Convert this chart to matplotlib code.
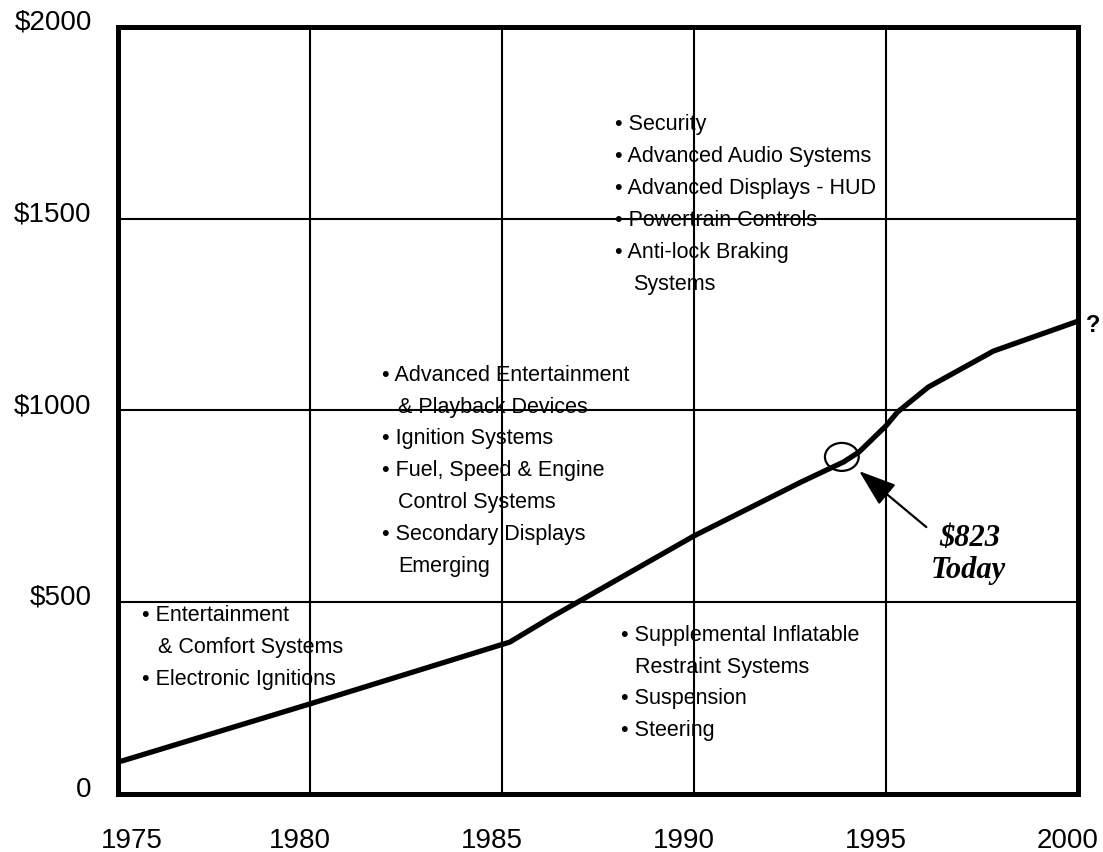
import matplotlib
matplotlib.use("Agg")
import matplotlib.pyplot as plt
import matplotlib.transforms as mtransforms
from matplotlib.patches import Ellipse, ArrowStyle

plt.rcParams['font.family'] = ['Liberation Sans', 'DejaVu Sans']

# Electronics content per vehicle (US$) by model year
years = [1975.1, 1980.0, 1985.2, 1986.3, 1990.0, 1992.8, 1993.9, 1994.3,
         1995.0, 1995.3, 1996.1, 1997.8, 2000.0]
values = [86, 235, 396, 462, 673, 814, 866, 892, 960, 996, 1061, 1155, 1233]

x_ticks = [1975, 1980, 1985, 1990, 1995, 2000]
y_ticks = [0, 500, 1000, 1500, 2000]
y_tick_labels = ['0', '\\$500', '\\$1000', '\\$1500', '\\$2000']

today_year = 1993.85
today_value = 823

# Feature groups listed on the chart
# lines starting with "•" are new items, others continue the item above
block_early = ["• Entertainment", "& Comfort Systems", "• Electronic Ignitions"]
block_mid = ["• Advanced Entertainment", "& Playback Devices", "• Ignition Systems",
             "• Fuel, Speed & Engine", "Control Systems", "• Secondary Displays",
             "Emerging"]
block_late_top = ["• Security", "• Advanced Audio Systems", "• Advanced Displays - HUD",
                  "• Powertrain Controls", "• Anti-lock Braking", "Systems"]
block_late_low = ["• Supplemental Inflatable", "Restraint Systems", "• Suspension",
                  "• Steering"]

fig = plt.figure(figsize=(11.03, 8.53), dpi=100)
ax = fig.add_axes([0.10698, 0.0680, 0.87035, 0.89918])

ax.set_xlim(1975, 2000)
ax.set_ylim(0, 2000)

ax.plot(years, values, color='black', lw=3.8, solid_capstyle='round',
        solid_joinstyle='round', zorder=4)

# grid over the text
ax.set_axisbelow(False)
ax.grid(True, color='black', lw=1.5)
for s in ax.spines.values():
    s.set_linewidth(3.6)
    s.set_zorder(5)

ax.set_xticks(x_ticks)
ax.set_xticklabels([str(y) for y in x_ticks])
ax.set_yticks(y_ticks)
ax.set_yticklabels(y_tick_labels)
ax.tick_params(axis='x', length=0, pad=24, labelsize=20)
ax.tick_params(axis='y', length=0, pad=19, labelsize=20)

# nudge tick labels
for i, lab in enumerate(ax.get_xticklabels()):
    dx = 10 if i == 0 else -7.2
    lab.set_transform(lab.get_transform() +
                      mtransforms.ScaledTranslation(dx / 72, 0, fig.dpi_scale_trans))
for lab in ax.get_yticklabels():
    lab.set_transform(lab.get_transform() +
                      mtransforms.ScaledTranslation(0, 6 / 72, fig.dpi_scale_trans))


def draw_block(x, y, lines, indent=11):
    for i, line in enumerate(lines):
        dx = 0 if line.startswith("•") else indent
        ax.annotate(line, xy=(x, y), xytext=(dx, -i * 23), textcoords='offset points',
                    fontsize=15.5, ha='left', va='center', zorder=1)


draw_block(1975.62, 469, block_early, indent=11.5)
draw_block(1981.87, 1095, block_mid, indent=11.5)
draw_block(1987.94, 1748, block_late_top, indent=13)
draw_block(1988.10, 417, block_late_low, indent=10)

# "today" marker
ax.add_patch(Ellipse((today_year, 879), 0.88, 73, fill=False, ec='black', lw=1.6,
                     zorder=6))
ax.annotate("", xy=(1994.30, 842), xytext=(1996.05, 696),
            arrowprops=dict(arrowstyle=ArrowStyle('-|>', head_length=0.4, head_width=0.14),
                            mutation_scale=58, color='black', lw=1.6,
                            shrinkA=0, shrinkB=0), zorder=6)
ax.text(1997.19, 668, "\\$%d" % today_value, fontsize=22, fontweight='bold',
        fontstyle='italic', family='Liberation Serif', ha='center', va='center')
ax.text(1997.14, 585, "Today", fontsize=22, fontweight='bold', fontstyle='italic',
        family='Liberation Serif', ha='center', va='center')

ax.text(2000.39, 1225, "?", fontsize=17, fontweight='bold', ha='center', va='center',
        clip_on=False)

fig.savefig("out.png", dpi=100)
